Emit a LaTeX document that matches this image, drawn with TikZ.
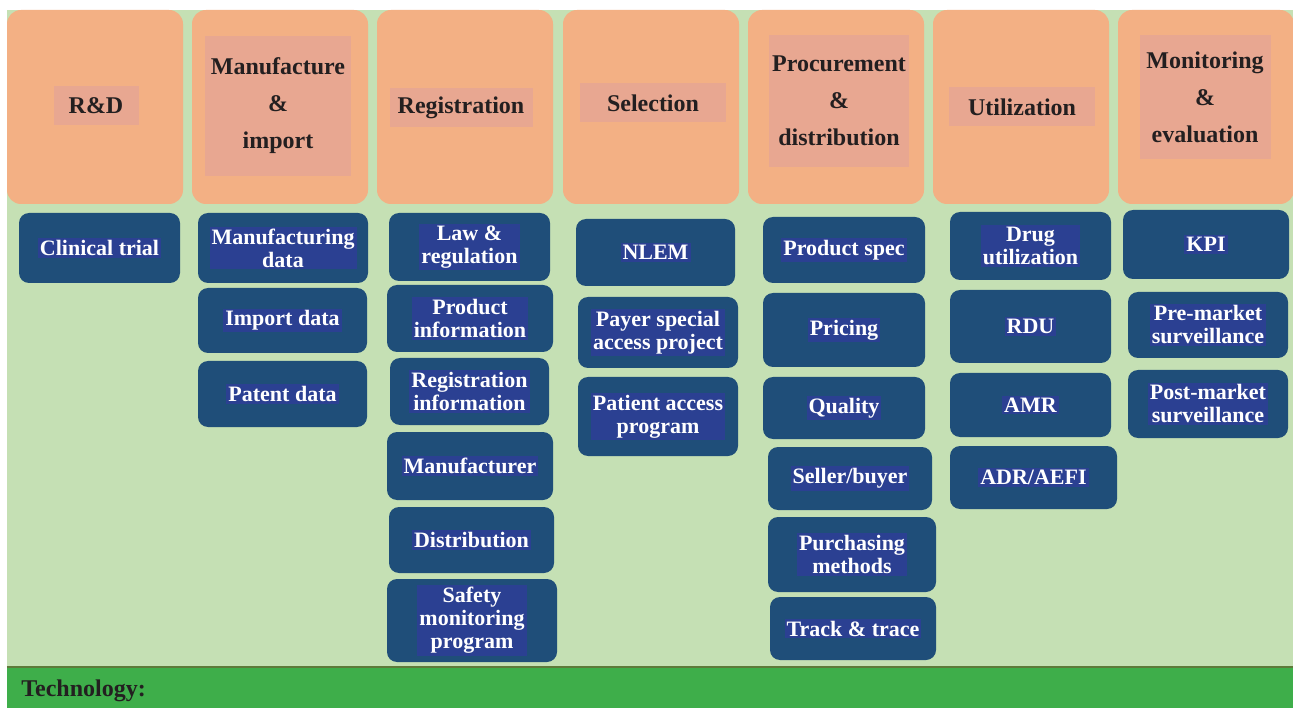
\documentclass[tikz,border=0pt]{standalone}
\usepackage{fontspec}
\setmainfont{Liberation Serif}
\usetikzlibrary{positioning,fit}

\definecolor{bggreen}{HTML}{C5E0B4}
\definecolor{headorange}{HTML}{F3B084}
\definecolor{headpink}{HTML}{E8A791}
\definecolor{cellblue}{HTML}{1F4E79}
\definecolor{hlblue}{HTML}{2B4092}
\definecolor{techgreen}{HTML}{3EAE4A}
\definecolor{techline}{HTML}{5E7A3A}
\definecolor{inkblack}{HTML}{231F20}

\tikzset{
  head/.style={fill=headorange, rounded corners=14pt, inner sep=0pt},
  headlbl/.style={fill=headpink, text=inkblack, align=center, inner sep=0pt,
    font=\fontsize{24}{37}\selectfont\bfseries},
  cell/.style={fill=cellblue, rounded corners=10pt, inner sep=0pt},
  celllbl/.style={fill=hlblue, text=white, align=center, inner sep=2pt,
    font=\fontsize{22}{23}\selectfont\bfseries},
  techbar/.style={fill=techgreen, inner sep=0pt}
}

\begin{document}
\begin{tikzpicture}[x=1pt,y=-1pt]
  \useasboundingbox (0,0) rectangle (1293,708);
  \fill[bggreen] (7,10) rectangle (1293,668);

  % stages
  \foreach \n/\xa/\cx/\cy/\w/\h/\t in {
      rd/7/96/106/85/39/{R\&D},
      manu/192/278/106/146/140/{Manufacture\\\&\\import},
      regi/377/461/108/143/39/{Registration},
      sele/563/653/103/146/39/{Selection},
      proc/748/839/101/140/132/{Procurement\\\&\\distribution},
      util/933/1022/107/146/39/{Utilization},
      moni/1118/1205/97/131/124/{Monitoring\\\&\\evaluation}}
  {
    \node[head, fit={(\xa,10) ({\xa+176},204)}] (\n) {};
    \node[headlbl, minimum width=\w pt, minimum height=\h pt] (\n-t) at (\cx,\cy) {\t};
  }

  % data items
  \foreach \n/\xa/\ya/\xb/\yb/\t in {
      clin/19/213/180/283/{Clinical trial},
      mfdata/198/213/368/283/{Manufacturing\\data},
      impdata/198/288/367/353/{Import data},
      patdata/198/361/367/427/{Patent data},
      law/389/213/550/281/{Law \&\\regulation},
      prodinfo/387/285/553/352/{Product\\information},
      reginfo/390/358/549/425/{Registration\\information},
      mfr/387/432/553/500/{Manufacturer},
      distr/389/507/554/573/{Distribution},
      safety/387/579/557/662/{Safety\\monitoring\\program},
      nlem/576/219/735/286/{NLEM},
      payer/578/297/738/368/{Payer special\\access project},
      patient/578/377/738/456/{Patient access\\program},
      spec/763/217/925/283/{Product spec},
      pricing/763/293/925/367/{Pricing},
      quality/763/377/925/439/{Quality},
      seller/768/447/932/510/{Seller/buyer},
      purch/768/517/936/592/{Purchasing\\methods},
      track/770/597/936/660/{Track \& trace},
      drug/950/212/1111/280/{Drug\\utilization},
      rdu/950/290/1111/363/{RDU},
      amr/950/373/1111/437/{AMR},
      adr/950/446/1117/509/{ADR/AEFI},
      kpi/1123/210/1289/279/{KPI},
      premkt/1128/292/1288/358/{Pre-market\\surveillance},
      postmkt/1128/370/1288/438/{Post-market\\surveillance}}
  {
    \node[cell, fit={(\xa,\ya) (\xb,\yb)}] (\n) {};
    \node[celllbl] (\n-t) at (\n.center) {\t};
  }

  % technology bar
  \node[techbar, fit={(7,667) (1293,708)}] (tech) {};
  \draw[techline, line width=1.5pt] (tech.north west) -- (tech.north east);
  \node[anchor=west, text=inkblack, font=\fontsize{24}{26}\selectfont\bfseries]
    (tech-t) at ([xshift=11pt,yshift=-3pt]tech.west) {Technology:};
\end{tikzpicture}
\end{document}
